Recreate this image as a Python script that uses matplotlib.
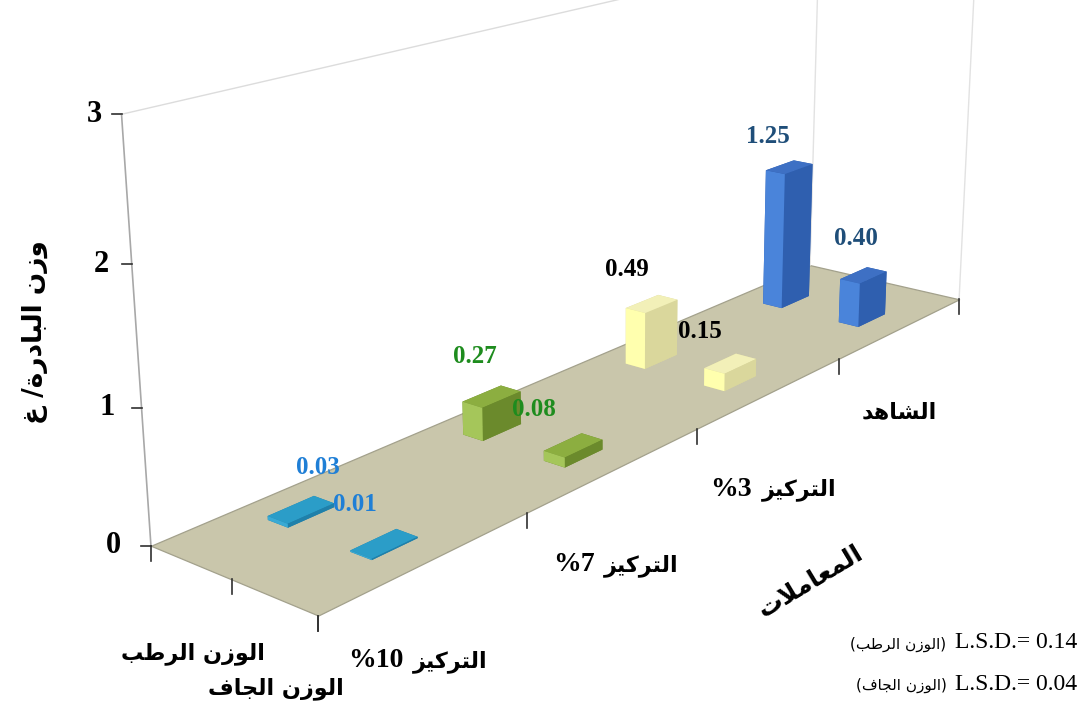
import re
import numpy as np
import matplotlib
matplotlib.use('Agg')
import matplotlib.pyplot as plt
from mpl_toolkits.mplot3d import proj3d
from mpl_toolkits.mplot3d.art3d import Poly3DCollection
from matplotlib.offsetbox import TextArea, HPacker, AnnotationBbox

# ---------------- data ----------------
categories = ['التركيز 10%', 'التركيز 7%', 'التركيز 3%', 'الشاهد']
series_names = ['الوزن الجاف', 'الوزن الرطب']          # front row, back row
dry_weight = [0.01, 0.08, 0.15, 0.40]
wet_weight = [0.03, 0.27, 0.49, 1.25]
z_ticks = [0, 1, 2, 3]
y_title = 'وزن البادرة/ غ'
x_title = 'المعاملات'
lsd_wet = 0.14
lsd_dry = 0.04

# face colours per category: (top, front(-y), left(-x))
bar_faces = [('#2B9DC8', '#1F80AA', '#3AAAD4'),
             ('#8CAE40', '#6B8A2C', '#A5C65A'),
             ('#F2F0B8', '#DAD79C', '#FFFFAE'),
             ('#3E70C4', '#2F5FAF', '#4A84DA')]
label_colors = ['#1F7FD6', '#1E8C1E', '#000000', '#1F4E79']

# ---------------- Arabic shaping (presentation forms) ----------------
FORMS = {
    'ا': ('\uFE8D', '\uFE8E', None, None),
    'ب': ('\uFE8F', '\uFE90', '\uFE91', '\uFE92'),
    'ة': ('\uFE93', '\uFE94', None, None),
    'ت': ('\uFE95', '\uFE96', '\uFE97', '\uFE98'),
    'ج': ('\uFE9D', '\uFE9E', '\uFE9F', '\uFEA0'),
    'د': ('\uFEA9', '\uFEAA', None, None),
    'ر': ('\uFEAD', '\uFEAE', None, None),
    'ز': ('\uFEAF', '\uFEB0', None, None),
    'ش': ('\uFEB5', '\uFEB6', '\uFEB7', '\uFEB8'),
    'ط': ('\uFEC1', '\uFEC2', '\uFEC3', '\uFEC4'),
    'ع': ('\uFEC9', '\uFECA', '\uFECB', '\uFECC'),
    'غ': ('\uFECD', '\uFECE', '\uFECF', '\uFED0'),
    'ف': ('\uFED1', '\uFED2', '\uFED3', '\uFED4'),
    'ك': ('\uFED9', '\uFEDA', '\uFEDB', '\uFEDC'),
    'ل': ('\uFEDD', '\uFEDE', '\uFEDF', '\uFEE0'),
    'م': ('\uFEE1', '\uFEE2', '\uFEE3', '\uFEE4'),
    'ن': ('\uFEE5', '\uFEE6', '\uFEE7', '\uFEE8'),
    'ه': ('\uFEE9', '\uFEEA', '\uFEEB', '\uFEEC'),
    'و': ('\uFEED', '\uFEEE', None, None),
    'ي': ('\uFEF1', '\uFEF2', '\uFEF3', '\uFEF4'),
}


def shape_ar(s):
    ch = list(s)
    n = len(ch)
    out = []
    i = 0
    while i < n:
        c = ch[i]
        if c not in FORMS:
            out.append(c)
            i += 1
            continue
        prev = ch[i - 1] if i > 0 else None
        cprev = prev in FORMS and FORMS[prev][2] is not None
        if c == 'ل' and i + 1 < n and ch[i + 1] == 'ا':
            out.append('\uFEFC' if cprev else '\uFEFB')
            i += 2
            continue
        nxt = ch[i + 1] if i + 1 < n else None
        iso, fin, ini, med = FORMS[c]
        cnext = ini is not None and nxt in FORMS
        if cprev and cnext:
            g = med
        elif cprev:
            g = fin
        elif cnext:
            g = ini
        else:
            g = iso
        out.append(g)
        i += 1
    return ''.join(out)


def vis(s):
    t = shape_ar(s)[::-1]
    return re.sub(r'[0-9.]+', lambda m: m.group(0)[::-1], t)


# ---------------- figure & 3D view ----------------
W, H = 1083, 704
fig = plt.figure(figsize=(W / 100, H / 100), dpi=100)
ax = fig.add_axes([0.0507, -0.1123, 1.0066, 1.5486], projection='3d')
ax.set_xlim(-0.5, 3.5)
ax.set_ylim(-0.5, 1.5)
ax.set_zlim(0, 3)
ax.view_init(elev=16.625, azim=-141.1875)
ax.set_proj_type('persp', focal_length=0.3609)
ax.set_box_aspect((1, 0.2037, 0.3756))
ax.set_axis_off()
ax.computed_zorder = False

x0, x1 = -0.5, 3.5
y0, y1 = -0.5, 1.5
ztop = z_ticks[-1]

floor = Poly3DCollection([[(x0, y0, 0), (x1, y0, 0), (x1, y1, 0), (x0, y1, 0)]],
                         facecolor='#C9C6AB', edgecolor='#A3A18C', linewidth=0.9, zorder=1)
ax.add_collection3d(floor)

# wall outlines
ax.plot([x0, x0], [y1, y1], [0, ztop], color='#A8A8A8', lw=1.2, zorder=2)
ax.plot([x0, x1], [y1, y1], [ztop, ztop], color='#DCDCDC', lw=1.0, zorder=2)
ax.plot([x1, x1], [y1, y1], [0, ztop], color='#E2E2E2', lw=1.0, zorder=2)
ax.plot([x1, x1], [y0, y0], [0, ztop], color='#E2E2E2', lw=1.0, zorder=2)

# bars: far to near
dx, dy = 0.22, 0.25
rows = [(0, dry_weight), (1, wet_weight)]
order = sorted([(i, r) for i in range(len(categories)) for r in range(2)],
               key=lambda t: -(t[0] + t[1]))
zo = 3
for i, r in order:
    v = rows[r][1][i]
    top, front, left = bar_faces[i]
    faces = [front, top, front, front, left, front]   # -z, +z, -y, +y, -x, +x
    ax.bar3d(i - dx / 2, r - dy / 2, 0, dx, dy, v, color=faces,
             shade=False, zorder=zo, edgecolor='none')
    zo += 1

fig.canvas.draw()


def px(x, y, z):
    M = ax.get_proj()
    xs, ys, _ = proj3d.proj_transform(np.atleast_1d(x), np.atleast_1d(y), np.atleast_1d(z), M)
    d = ax.transData.transform(np.column_stack([xs, ys]))
    return d[0, 0], H - d[0, 1]


ov = fig.add_axes([0, 0, 1, 1])
ov.set_xlim(0, W)
ov.set_ylim(H, 0)
ov.axis('off')
ov.patch.set_alpha(0)

serif = 'Liberation Serif'
arab = 'DejaVu Sans'

# z ticks & labels
for k in z_ticks:
    X, Y = px(x0, y1, k)
    ov.plot([X - 10, X], [Y, Y], color='#303030', lw=1.2)
    gap = 20 + 3.3 * (ztop - k)
    ov.text(X - gap, Y, str(k), ha='right', va='center', fontsize=22,
            fontweight='bold', family=serif)

# category ticks (front edge)
for t in np.arange(x0, x1 + 0.01, 1.0):
    X, Y = px(t, y0, 0)
    ov.plot([X, X], [Y, Y + 15], color='#303030', lw=1.2)
# series ticks (left edge)
for t in np.arange(y0, y1 + 0.01, 1.0):
    X, Y = px(x0, t, 0)
    ov.plot([X, X], [Y, Y + 15], color='#303030', lw=1.2)

# category labels
cat_shift = [(-10, 6), (0, 3), (2, 4), (-2, -8)]
for i, name in enumerate(categories):
    X, Y = px(i, y0, 0)
    parts = name.split(' ')
    if len(parts) > 1:
        box = HPacker(children=[
            TextArea('%' + parts[1].rstrip('%'),
                     textprops=dict(fontsize=20, fontweight='bold', family=serif)),
            TextArea(vis(parts[0]), textprops=dict(fontsize=16, fontweight='bold', family=arab)),
        ], align='baseline', pad=0, sep=7)
    else:
        box = TextArea(vis(name), textprops=dict(fontsize=16, fontweight='bold', family=arab))
    ab = AnnotationBbox(box, (X + cat_shift[i][0], Y + 93 + cat_shift[i][1]),
                        xycoords=ov.transData, frameon=False,
                        box_alignment=(0.5, 0.5), pad=0)
    ov.add_artist(ab)

# series labels
for r, name in enumerate(series_names):
    X, Y = px(x0, r, 0)
    ov.text(X + 2, Y + 91, vis(name), ha='center', va='center', fontsize=16,
            fontweight='bold', family=arab)

# value labels
lab_shift = {(0, 0): (-14, -4), (0, 1): (32, -7), (1, 0): (-24, -1), (1, 1): (-2, -5),
             (2, 0): (-15, 3), (2, 1): (-10, 1), (3, 0): (7, -2), (3, 1): (-6, 4)}
for i in range(len(categories)):
    for r in range(2):
        v = rows[r][1][i]
        X, Y = px(i, r, v)
        sx, sy = lab_shift[(i, r)]
        ov.text(X - 15 + sx, Y - 35 + sy, '%.2f' % v, ha='center', va='center', fontsize=18,
                fontweight='bold', family=serif, color=label_colors[i])

# axis titles
ov.text(35, 332, vis(y_title), rotation=90, ha='center', va='center', fontsize=19,
        fontweight='bold', family=arab)
ov.text(810, 582, vis(x_title), rotation=31, ha='center', va='center', fontsize=18,
        fontweight='bold', family=arab, rotation_mode='anchor')

# LSD notes
for yy, val, nm in [(643, lsd_wet, series_names[1]), (684, lsd_dry, series_names[0])]:
    box = HPacker(children=[
        TextArea('(' + vis(nm) + ')', textprops=dict(fontsize=11, family=arab)),
        TextArea('L.S.D.= %.2f' % val, textprops=dict(fontsize=17, family=serif)),
    ], align='baseline', pad=0, sep=6)
    ab = AnnotationBbox(box, (1077, yy), xycoords=ov.transData, frameon=False,
                        box_alignment=(1.0, 0.5), pad=0)
    ov.add_artist(ab)

fig.savefig('out.png', dpi=100)
